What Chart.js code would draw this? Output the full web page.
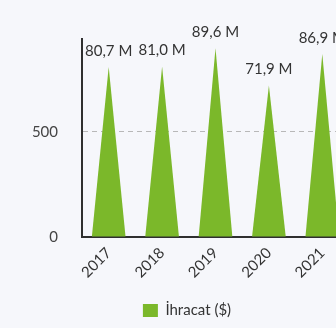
<!DOCTYPE html>
<html><head><meta charset="utf-8">
<script src="https://cdn.jsdelivr.net/npm/chart.js@4"></script>
<style>
html,body{margin:0;padding:0;background:#f6f7fb;overflow:hidden}
#wrap{width:374px;height:328px;position:relative}
</style>
</head><body>
<div id="wrap"><canvas id="c"></canvas></div>
<script>
const years = ['2017', '2018', '2019', '2020', '2021'];
const exportValues = [807, 810, 896, 719, 869]; // hundred-thousand $
const yTickValues = [0, 500];
const seriesName = 'İhracat ($)';

const GREEN = '#7bb82a';
const TEXT = '#333333';
const FONT = 'Lato, "Open Sans", sans-serif';

function fmtLabel(v) {
  return (v / 10).toFixed(1).replace('.', ',') + ' M';
}

const triPlugin = {
  id: 'triBars',
  beforeDatasetDraw(chart, args) {
    const ctx = chart.ctx;
    ctx.save();
    ctx.fillStyle = GREEN;
    args.meta.data.forEach(el => {
      const p = el.getProps(['x', 'y', 'base', 'width'], true);
      ctx.beginPath();
      ctx.moveTo(p.x - p.width / 2, p.base);
      ctx.lineTo(p.x, p.y);
      ctx.lineTo(p.x + p.width / 2, p.base);
      ctx.closePath();
      ctx.fill();
    });
    ctx.restore();
    return false;
  },
  afterDatasetsDraw(chart) {
    const ctx = chart.ctx;
    const meta = chart.getDatasetMeta(0);
    ctx.save();
    ctx.fillStyle = TEXT;
    ctx.font = '15px ' + FONT;
    ctx.textAlign = 'center';
    ctx.textBaseline = 'middle';
    meta.data.forEach((el, i) => {
      const v = chart.data.datasets[0].data[i];
      ctx.fillText(fmtLabel(v), el.x, el.y - 16);
    });
    ctx.restore();
  }
};

new Chart(document.getElementById('c'), {
  type: 'bar',
  data: {
    labels: years,
    datasets: [{
      label: seriesName,
      data: exportValues,
      backgroundColor: GREEN,
      borderWidth: 0,
      categoryPercentage: 1,
      barPercentage: 0.63
    }]
  },
  options: {
    responsive: true,
    maintainAspectRatio: false,
    animation: false,
    layout: { padding: { top: 39, right: 0, left: 0, bottom: 0 } },
    plugins: {
      tooltip: { enabled: false },
      legend: {
        position: 'bottom',
        labels: {
          color: TEXT,
          font: { family: FONT, size: 15 },
          boxWidth: 15,
          boxHeight: 13,
          padding: 10
        }
      }
    },
    scales: {
      x: {
        grid: { display: false, drawTicks: false },
        border: { display: true, color: '#2f2f2f', width: 2 },
        ticks: {
          color: TEXT,
          font: { family: FONT, size: 15 },
          maxRotation: 45,
          minRotation: 45,
          padding: 7
        },
        afterFit(s) { s.height = 56; }
      },
      y: {
        min: 0,
        max: 940,
        grid: {
          drawTicks: false,
          color: ctx => (ctx.tick && ctx.tick.value === 500) ? '#b8b8b8' : 'rgba(0,0,0,0)',
          lineWidth: 1
        },
        border: { display: true, color: '#2f2f2f', width: 2, dash: [5, 4] },
        ticks: {
          color: '#444444',
          font: { family: FONT, size: 15 },
          padding: 24,
          stepSize: 500
        },
        afterBuildTicks(s) {
          s.ticks = yTickValues.map(v => ({ value: v }));
        },
        afterFit(s) { s.width = 82; }
      },
      ySpacer: {
        type: 'linear',
        position: 'right',
        display: true,
        grid: { display: false, drawTicks: false },
        border: { display: false },
        ticks: { display: false },
        afterFit(s) { s.width = 25; }
      }
    }
  },
  plugins: [triPlugin]
});
</script>
</body></html>
